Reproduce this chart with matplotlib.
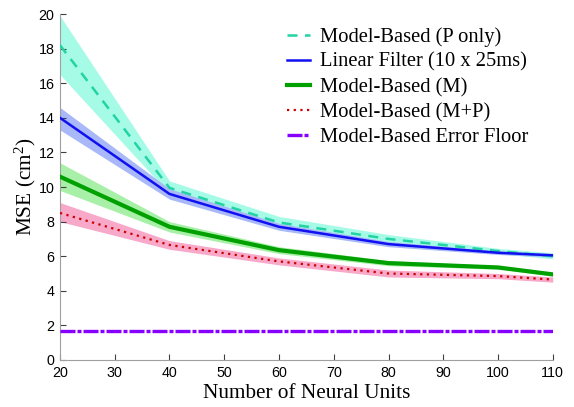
import numpy as np
import matplotlib
matplotlib.use("Agg")
import matplotlib.pyplot as plt

plt.rcParams["mathtext.fontset"] = "custom"
plt.rcParams["mathtext.rm"] = "Liberation Serif"
plt.rcParams["mathtext.default"] = "rm"

# === Dati ===
units = [20, 40, 60, 80, 100, 110]

p_only = [18.2, 9.95, 7.95, 7.0, 6.3, 6.0]
p_only_lo = [16.5, 9.6, 7.6, 6.75, 6.15, 5.85]
p_only_hi = [19.9, 10.35, 8.3, 7.25, 6.45, 6.2]

linear = [14.0, 9.6, 7.7, 6.7, 6.2, 6.05]
linear_lo = [13.3, 9.3, 7.5, 6.55, 6.1, 5.95]
linear_hi = [14.6, 9.9, 7.9, 6.85, 6.3, 6.15]

model_m = [10.6, 7.7, 6.35, 5.6, 5.35, 4.95]
model_m_lo = [9.8, 7.4, 6.15, 5.45, 5.25, 4.85]
model_m_hi = [11.4, 8.0, 6.55, 5.75, 5.45, 5.05]

model_mp = [8.5, 6.65, 5.7, 5.0, 4.85, 4.65]
model_mp_lo = [8.0, 6.4, 5.5, 4.8, 4.7, 4.5]
model_mp_hi = [9.1, 6.9, 5.9, 5.2, 5.0, 4.8]

floor = 1.65

xticks = [20, 30, 40, 50, 60, 70, 80, 90, 100, 110]
yticks = [0, 2, 4, 6, 8, 10, 12, 14, 16, 18, 20]

# === Figura ===
fig = plt.figure(figsize=(5.74, 4.07), dpi=100)
ax = fig.add_axes([0.1045, 0.1155, 0.8585, 0.85])

serif = ["Liberation Serif", "DejaVu Serif"]
sans = ["Liberation Sans", "DejaVu Sans"]

# bande
ax.fill_between(units, p_only_lo, p_only_hi, color="#a6fbe6", lw=0, zorder=1)
ax.fill_between(units, linear_lo, linear_hi, color="#a8b8f8", lw=0, zorder=1)
ax.fill_between(units, model_m_lo, model_m_hi, color="#a8f0a8", lw=0, zorder=1)
ax.fill_between(units, model_mp_lo, model_mp_hi, color="#f8a8c8", lw=0, zorder=1)

# linee
ax.plot(units, p_only, color="#22d3a3", lw=1.8, ls=(0, (4, 3)), zorder=3,
        label="Model-Based (P only)")
ax.plot(units, linear, color="#1010f0", lw=1.8, zorder=3,
        label="Linear Filter (10 x 25ms)")
ax.plot(units, model_m, color="#00a000", lw=3.0, zorder=3,
        label="Model-Based (M)")
ax.plot(units, model_mp, color="#cc0000", lw=1.6, ls=(0, (1, 2)), zorder=4,
        label="Model-Based (M+P)")
ax.plot([units[0], units[-1]], [floor, floor], color="#8800ff", lw=2.4,
        ls=(0, (4.5, 0.6, 1.2, 0.6)), zorder=3, label="Model-Based Error Floor")

ax.set_xlim(20, 110)
ax.set_ylim(0, 20)
ax.set_xticks(xticks)
ax.set_yticks(yticks)

for lab in ax.get_xticklabels() + ax.get_yticklabels():
    lab.set_family(sans)
    lab.set_fontsize(10.3)

ax.tick_params(direction="in", length=4, color="#404040", pad=4)
for s in ["top", "right"]:
    ax.spines[s].set_visible(False)
for s in ["left", "bottom"]:
    ax.spines[s].set_color("#a0a0a0")

ax.set_xlabel("Number of Neural Units", family=serif, fontsize=15.3, labelpad=3)
ax.set_ylabel("MSE (cm$^2$)", family=serif, fontsize=15.3, labelpad=0)

leg = fig.legend(*ax.get_legend_handles_labels(), loc="upper left", frameon=False,
                 prop={"family": serif, "size": 14.8},
                 handlelength=1.1, handletextpad=0.5, labelspacing=0.28,
                 borderpad=0, borderaxespad=0,
                 bbox_to_anchor=(287 / 574, 1 - 27 / 407))

fig.savefig("out.png", dpi=100)
